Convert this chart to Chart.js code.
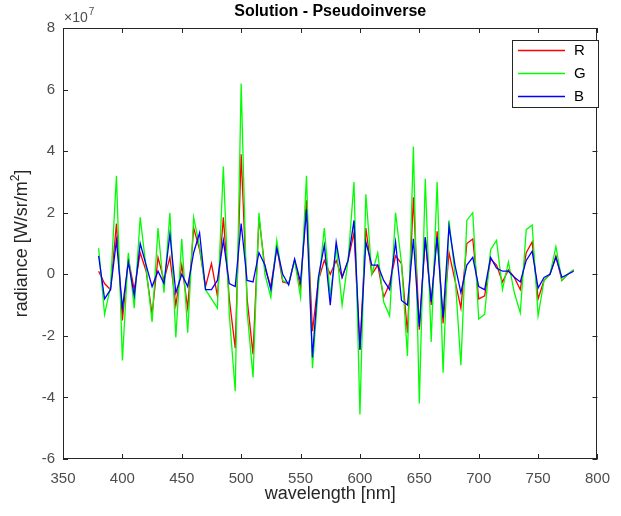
<!DOCTYPE html>
<html>
<head>
<meta charset="utf-8">
<script src="https://cdn.jsdelivr.net/npm/chart.js@4.4.0/dist/chart.umd.min.js"></script>
<style>
  html, body { margin: 0; padding: 0; background: #fff; }
</style>
</head>
<body>
<canvas id="solChart" width="621" height="516"></canvas>
<script>
// wavelength samples [nm]
const wavelengths = [380, 385, 390, 395, 400, 405, 410, 415, 420, 425, 430, 435, 440, 445, 450,
  455, 460, 465, 470, 475, 480, 485, 490, 495, 500, 505, 510, 515, 520, 525, 530,
  535, 540, 545, 550, 555, 560, 565, 570, 575, 580, 585, 590, 595, 600, 605, 610,
  615, 620, 625, 630, 635, 640, 645, 650, 655, 660, 665, 670, 675, 680, 685, 690,
  695, 700, 705, 710, 715, 720, 725, 730, 735, 740, 745, 750, 755, 760, 765, 770,
  775, 780];

// radiance, in units of 1e7 W/sr/m^2
const radR = [0.1, -0.3, -0.5, 1.65, -1.5, 0.5, -0.5, 0.7, 0.1, -1.3, 0.55, -0.2, 0.55, -1.0, 0.3,
  -1.1, 1.5, 0.8, -0.4, 0.35, -0.7, 1.85, -0.8, -2.4, 3.9, -0.8, -2.6, 1.85, 0.2, -0.4, 0.9,
  -0.25, -0.3, 0.45, -0.45, 2.4, -1.85, -0.2, 0.45, 0.0, 0.45, -0.1, 0.45, 1.35, -2.45, 1.5, 0.0,
  0.3, -0.75, -0.3, 0.6, 0.35, -1.9, 2.5, -1.8, 1.2, -1.0, 1.4, -1.6, 0.7, -0.2, -1.1, 1.0,
  1.15, -0.8, -0.7, 0.5, 0.3, -0.25, 0.15, -0.1, -0.5, 0.7, 1.05, -0.8, -0.2, 0.0, 0.6, -0.2,
  0.0, 0.15];
const radG = [0.85, -1.3, -0.4, 3.2, -2.8, 0.7, -1.1, 1.85, 0.2, -1.55, 1.5, -0.6, 2.0, -2.05, 1.15,
  -1.9, 1.85, 0.9, -0.5, -0.8, -1.1, 3.5, -1.3, -3.8, 6.2, -1.2, -3.35, 2.0, 0.0, -0.75, 1.1,
  -0.2, -0.3, 0.45, -0.75, 3.2, -3.05, -0.4, 1.5, -0.7, 0.9, -1.0, 0.45, 3.0, -4.55, 2.6, 0.0,
  0.7, -0.9, -1.35, 2.0, 0.35, -2.65, 4.15, -4.2, 3.1, -2.2, 3.0, -3.2, 1.75, 0.0, -2.95, 1.75,
  2.0, -1.45, -1.3, 0.8, 1.1, -0.5, 0.4, -0.6, -1.25, 1.45, 1.6, -1.35, -0.2, 0.0, 0.9, -0.2,
  0.0, 0.15];
const radB = [0.6, -0.8, -0.5, 1.1, -1.1, 0.4, -0.7, 1.0, 0.3, -0.4, 0.1, -0.3, 1.3, -0.6, 0.0,
  -0.4, 0.7, 1.35, -0.5, -0.5, -0.2, 1.1, -0.3, -0.4, 1.65, -0.2, -0.25, 0.7, 0.3, -0.5, 0.85,
  0.0, -0.35, 0.5, -0.25, 2.1, -2.7, -0.1, 0.95, -1.0, 1.05, -0.1, 0.45, 1.75, -2.45, 1.05, 0.3,
  0.3, -0.2, -0.5, 1.05, -0.85, -1.0, 1.15, -1.7, 1.2, -0.9, 1.2, -1.4, 1.55, 0.3, -0.6, 0.3,
  0.55, -0.4, -0.5, 0.55, 0.2, 0.1, 0.1, -0.1, -0.25, 0.45, 0.75, -0.45, -0.1, 0.0, 0.55, -0.1,
  0.0, 0.1];

const seriesNames = ['R', 'G', 'B'];
const seriesColors = ['#ff0000', '#00ff00', '#0000ff'];
const xTicks = [350, 400, 450, 500, 550, 600, 650, 700, 750, 800];
const yTicks = [-6, -4, -2, 0, 2, 4, 6, 8];

const FONT = '"Liberation Sans", Arial, sans-serif';
const AXIS_GREY = '#262626';
const LABEL_GREY = '#4d4d4d';

function toPoints(vals) {
  return wavelengths.map((w, i) => ({ x: w, y: vals[i] }));
}

// MATLAB-ish frame: box, inward ticks, titles, exponent and legend
const matlabFrame = {
  id: 'matlabFrame',
  afterDraw(chart) {
    const ctx = chart.ctx;
    const a = chart.chartArea;
    const xs = chart.scales.x;
    const ys = chart.scales.y;
    ctx.save();

    ctx.strokeStyle = AXIS_GREY;
    ctx.lineWidth = 1;
    ctx.strokeRect(Math.round(a.left) + 0.5, Math.round(a.top) + 0.5,
      Math.round(a.right - a.left) - 1, Math.round(a.bottom - a.top) - 1);

    const tl = 5;
    ctx.beginPath();
    xTicks.forEach(v => {
      const px = Math.round(xs.getPixelForValue(v)) + 0.5;
      ctx.moveTo(px, a.bottom); ctx.lineTo(px, a.bottom - tl);
      ctx.moveTo(px, a.top); ctx.lineTo(px, a.top + tl);
    });
    yTicks.forEach(v => {
      const py = Math.round(ys.getPixelForValue(v)) + 0.5;
      ctx.moveTo(a.left, py); ctx.lineTo(a.left + tl, py);
      ctx.moveTo(a.right, py); ctx.lineTo(a.right - tl, py);
    });
    ctx.stroke();

    const cx = (a.left + a.right) / 2;

    // title
    ctx.fillStyle = '#000';
    ctx.font = 'bold 16px ' + FONT;
    ctx.textAlign = 'center';
    ctx.textBaseline = 'middle';
    ctx.fillText('Solution - Pseudoinverse', cx, 12);

    // exponent
    ctx.fillStyle = LABEL_GREY;
    ctx.textAlign = 'left';
    ctx.textBaseline = 'alphabetic';
    ctx.font = '14px ' + FONT;
    ctx.fillText('\u00d710', a.left + 1, 22);
    const w10 = ctx.measureText('\u00d710').width;
    ctx.font = '10px ' + FONT;
    ctx.fillText('7', a.left + 1 + w10 + 1, 15);

    // x title
    ctx.fillStyle = '#262626';
    ctx.font = '18px ' + FONT;
    ctx.textAlign = 'center';
    ctx.textBaseline = 'middle';
    ctx.fillText('wavelength [nm]', cx, 494);

    // y title with superscript
    const cy = (a.top + a.bottom) / 2;
    ctx.translate(22, cy);
    ctx.rotate(-Math.PI / 2);
    ctx.textAlign = 'left';
    ctx.textBaseline = 'middle';
    ctx.font = '18px ' + FONT;
    const p1 = 'radiance [W/sr/m', p3 = ']';
    const w1 = ctx.measureText(p1).width;
    const w3 = ctx.measureText(p3).width;
    ctx.font = '12px ' + FONT;
    const w2 = ctx.measureText('2').width;
    const x0 = -(w1 + w2 + w3) / 2;
    ctx.font = '18px ' + FONT;
    ctx.fillText(p1, x0, 0);
    ctx.fillText(p3, x0 + w1 + w2, 0);
    ctx.font = '12px ' + FONT;
    ctx.fillText('2', x0 + w1, -6);
    ctx.setTransform(1, 0, 0, 1, 0, 0);

    // legend
    const lx = 512, ly = 40, lw = 86, lh = 67;
    ctx.fillStyle = '#fff';
    ctx.fillRect(lx, ly, lw, lh);
    ctx.strokeStyle = AXIS_GREY;
    ctx.strokeRect(lx + 0.5, ly + 0.5, lw, lh);
    ctx.font = '15px ' + FONT;
    ctx.textAlign = 'left';
    ctx.textBaseline = 'middle';
    ctx.lineWidth = 1.3;
    seriesNames.forEach((name, i) => {
      const y = ly + 10 + i * 23;
      ctx.strokeStyle = seriesColors[i];
      ctx.beginPath();
      ctx.moveTo(lx + 6, y + 0.5);
      ctx.lineTo(lx + 53, y + 0.5);
      ctx.stroke();
      ctx.fillStyle = '#000';
      ctx.fillText(name, lx + 62, y + 1);
    });

    ctx.restore();
  }
};

const ctx = document.getElementById('solChart').getContext('2d');
const solChart = new Chart(ctx, {
  type: 'line',
  data: {
    datasets: [
      { label: seriesNames[0], data: toPoints(radR), borderColor: seriesColors[0], order: 3 },
      { label: seriesNames[1], data: toPoints(radG), borderColor: seriesColors[1], order: 2 },
      { label: seriesNames[2], data: toPoints(radB), borderColor: seriesColors[2], order: 1 }
    ]
  },
  options: {
    responsive: false,
    animation: false,
    devicePixelRatio: 1,
    layout: { padding: { top: 28, right: 13, left: 0, bottom: 0 } },
    elements: {
      line: { borderWidth: 1.3, tension: 0, fill: false },
      point: { radius: 0 }
    },
    plugins: {
      legend: { display: false },
      title: { display: false },
      tooltip: { enabled: false }
    },
    scales: {
      x: {
        type: 'linear',
        min: 350,
        max: 800,
        afterFit: s => { s.height = 57; },
        afterBuildTicks: s => { s.ticks = xTicks.map(v => ({ value: v })); },
        grid: { display: false, drawTicks: false },
        border: { display: false },
        ticks: { color: LABEL_GREY, font: { size: 15, family: FONT }, padding: 11, maxRotation: 0, autoSkip: false }
      },
      y: {
        min: -6,
        max: 8,
        afterFit: s => { s.width = 63; },
        afterBuildTicks: s => { s.ticks = yTicks.map(v => ({ value: v })); },
        grid: { display: false, drawTicks: false },
        border: { display: false },
        ticks: { color: LABEL_GREY, font: { size: 15, family: FONT }, padding: 8 }
      }
    }
  },
  plugins: [matlabFrame]
});
</script>
</body>
</html>
